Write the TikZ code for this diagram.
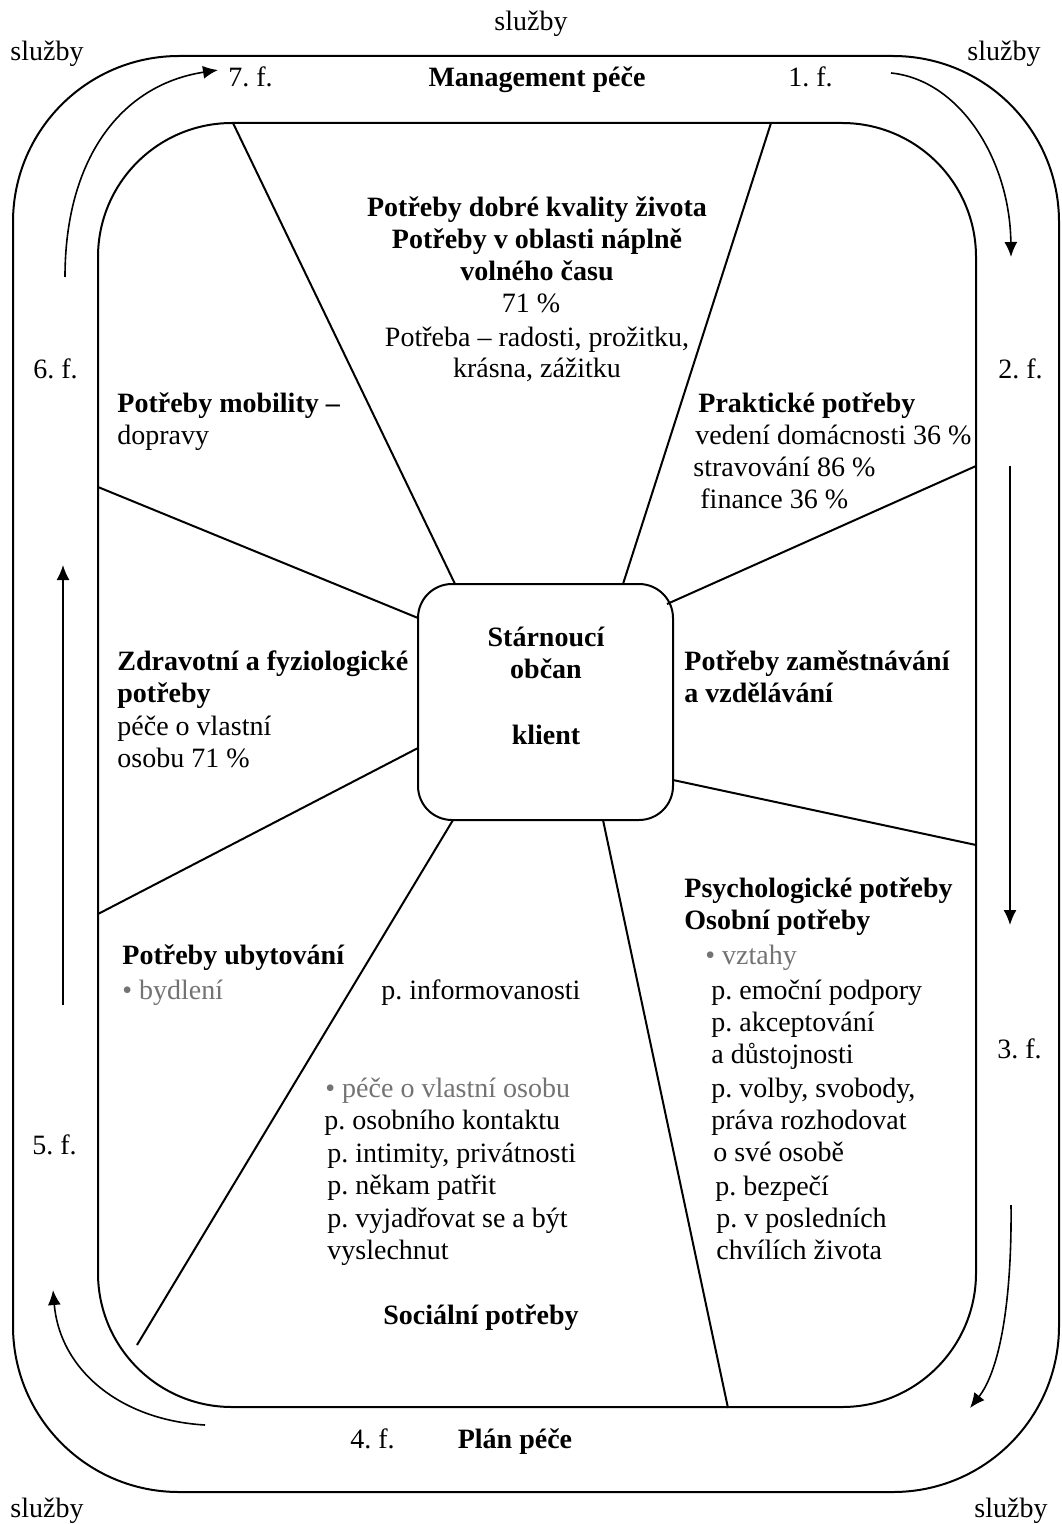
\documentclass[tikz,border=0pt]{standalone}
\usepackage{fontspec}
\setmainfont{Liberation Serif}
\usetikzlibrary{arrows.meta}
\frenchspacing
\begin{document}
\begin{tikzpicture}[x=0.5pt,y=-0.5pt,
  frame/.style={draw, line width=1pt},
  spoke/.style={draw, line width=1pt},
  flow/.style={draw, line width=0.8pt, -{Latex[length=7.5pt,width=6.5pt]}},
  txt/.style={inner sep=0pt, anchor=base west, font=\fontsize{14}{16}\selectfont},
  txtc/.style={txt, anchor=base},
  hd/.style={txt, font=\fontsize{14}{16}\selectfont\bfseries},
  hdc/.style={hd, anchor=base},
  grey/.style={txt, text=black!55}]
\useasboundingbox (0,0) rectangle (1061,1524);

% outer ring (services) and inner field of needs
\draw[frame, rounded corners=83pt] (13,56) rectangle (1059,1492);
\draw[frame, rounded corners=67pt] (98,123) rectangle (976,1407);

% the client in the middle
\node[draw, line width=1pt, rounded corners=17pt, minimum width=127.5pt,
      minimum height=118pt, inner sep=0pt] (client) at (545.5,702) {};

% spoke end points
\coordinate (s1a) at (233,123);  \coordinate (s1b) at (455,584);
\coordinate (s2a) at (771,123);  \coordinate (s2b) at (623,584);
\coordinate (s3a) at (976,466);  \coordinate (s3b) at (667,604);
\coordinate (s4a) at (976,845);  \coordinate (s4b) at (673,780);
\coordinate (s5a) at (728,1408); \coordinate (s5b) at (603,820);
\coordinate (s6a) at (137,1345); \coordinate (s6b) at (453,820);
\coordinate (s7a) at (98,914);   \coordinate (s7b) at (418,748);
\coordinate (s8a) at (98,487);   \coordinate (s8b) at (418,618);
\foreach \i in {1,...,8} \draw[spoke] (s\i a) -- (s\i b);

% phase arrows around the ring
\coordinate (f7a) at (65,277);   \coordinate (f7b) at (218,70);
\coordinate (f1a) at (891,73);   \coordinate (f1b) at (1011,257);
\coordinate (f2a) at (1010,466); \coordinate (f2b) at (1010,925);
\coordinate (f3a) at (1011,1205);\coordinate (f3b) at (970,1408);
\coordinate (f4a) at (205,1425); \coordinate (f4b) at (53,1290);
\coordinate (f5a) at (63,1005);  \coordinate (f5b) at (63,565);
\draw[flow] (f7a) .. controls (65,160) and (120,85) .. (f7b);
\draw[flow] (f1a) .. controls (960,80) and (1010,160) .. (f1b);
\draw[flow] (f2a) -- (f2b);
\draw[flow] (f3a) .. controls (1012,1300) and (1000,1370) .. (f3b);
\draw[flow] (f4a) .. controls (120,1420) and (60,1370) .. (f4b);
\draw[flow] (f5a) -- (f5b);

% services labels
\node[txtc] (sv1) at (531,31) {služby};
\node[txt] (sv2) at (10,61) {služby};
\node[txt] (sv3) at (967,61) {služby};
\node[txt] (sv4) at (10,1517) {služby};
\node[txt] (sv5) at (974,1517) {služby};

% phases
\node[txt] (p7) at (228,87) {7. f.};
\node[hdc] (mgmt) at (537,87) {Management péče};
\node[txt] (p1) at (788,87) {1. f.};
\node[txt] (p2) at (998,379) {2. f.};
\node[txt] (p6) at (33,379) {6. f.};
\node[txt] (p3) at (997,1058) {3. f.};
\node[txt] (p5) at (32,1154) {5. f.};
\node[txt] (p4) at (350,1448) {4. f.};
\node[hdc] (plan) at (515,1448) {Plán péče};

% quality of life
\node[hdc] (q1) at (537,217) {Potřeby dobré kvality života};
\node[hdc] (q2) at (537,249) {Potřeby v oblasti náplně};
\node[hdc] (q3) at (537,281) {volného času};
\node[txtc] (q4) at (531,313) {71 \%};
\node[txtc] (q5) at (537,346) {Potřeba – radosti, prožitku,};
\node[txtc] (q6) at (537,378) {krásna, zážitku};

% mobility
\node[hd] (m1) at (117,412) {Potřeby mobility –};
\node[txt] (m2) at (117,444) {dopravy};

% practical needs
\node[hd] (r1) at (698,412) {Praktické potřeby};
\node[txt] (r2) at (695,444) {vedení domácnosti 36 \%};
\node[txt] (r3) at (693,476) {stravování 86 \%};
\node[txt] (r4) at (700,508) {finance 36 \%};

% employment
\node[hd] (e1) at (684,670) {Potřeby zaměstnávání};
\node[hd] (e2) at (684,702) {a vzdělávání};

% client text
\node[hdc] (c1) at (546,646) {Stárnoucí};
\node[hdc] (c2) at (546,678) {občan};
\node[hdc] (c3) at (546,744) {klient};

% health
\node[hd] (h1) at (117,670) {Zdravotní a fyziologické};
\node[hd] (h2) at (117,702) {potřeby};
\node[txt] (h3) at (117,735) {péče o vlastní};
\node[txt] (h4) at (117,767) {osobu 71 \%};

% psychological
\node[hd] (y1) at (684,897) {Psychologické potřeby};
\node[hd] (y2) at (684,929) {Osobní potřeby};
\node[grey] (y3) at (705,964) {• vztahy};
\node[txt] (y4) at (711,999) {p. emoční podpory};
\node[txt] (y5) at (711,1031) {p. akceptování};
\node[txt] (y6) at (711,1063) {a důstojnosti};
\node[txt] (y7) at (711,1097) {p. volby, svobody,};
\node[txt] (y8) at (711,1129) {práva rozhodovat};
\node[txt] (y9) at (713,1161) {o své osobě};
\node[txt] (y10) at (715,1195) {p. bezpečí};
\node[txt] (y11) at (716,1227) {p. v posledních};
\node[txt] (y12) at (716,1259) {chvílích života};

% housing
\node[hd] (u1) at (122,964) {Potřeby ubytování};
\node[grey] (u2) at (122,999) {• bydlení};

% information
\node[txt] (i1) at (381,999) {p. informovanosti};

% social
\node[grey] (o1) at (325,1097) {• péče o vlastní osobu};
\node[txt] (o2) at (324,1129) {p. osobního kontaktu};
\node[txt] (o3) at (327,1162) {p. intimity, privátnosti};
\node[txt] (o4) at (327,1194) {p. někam patřit};
\node[txt] (o5) at (327,1227) {p. vyjadřovat se a být};
\node[txt] (o6) at (327,1259) {vyslechnut};
\node[hdc] (o7) at (481,1324) {Sociální potřeby};
\end{tikzpicture}
\end{document}
